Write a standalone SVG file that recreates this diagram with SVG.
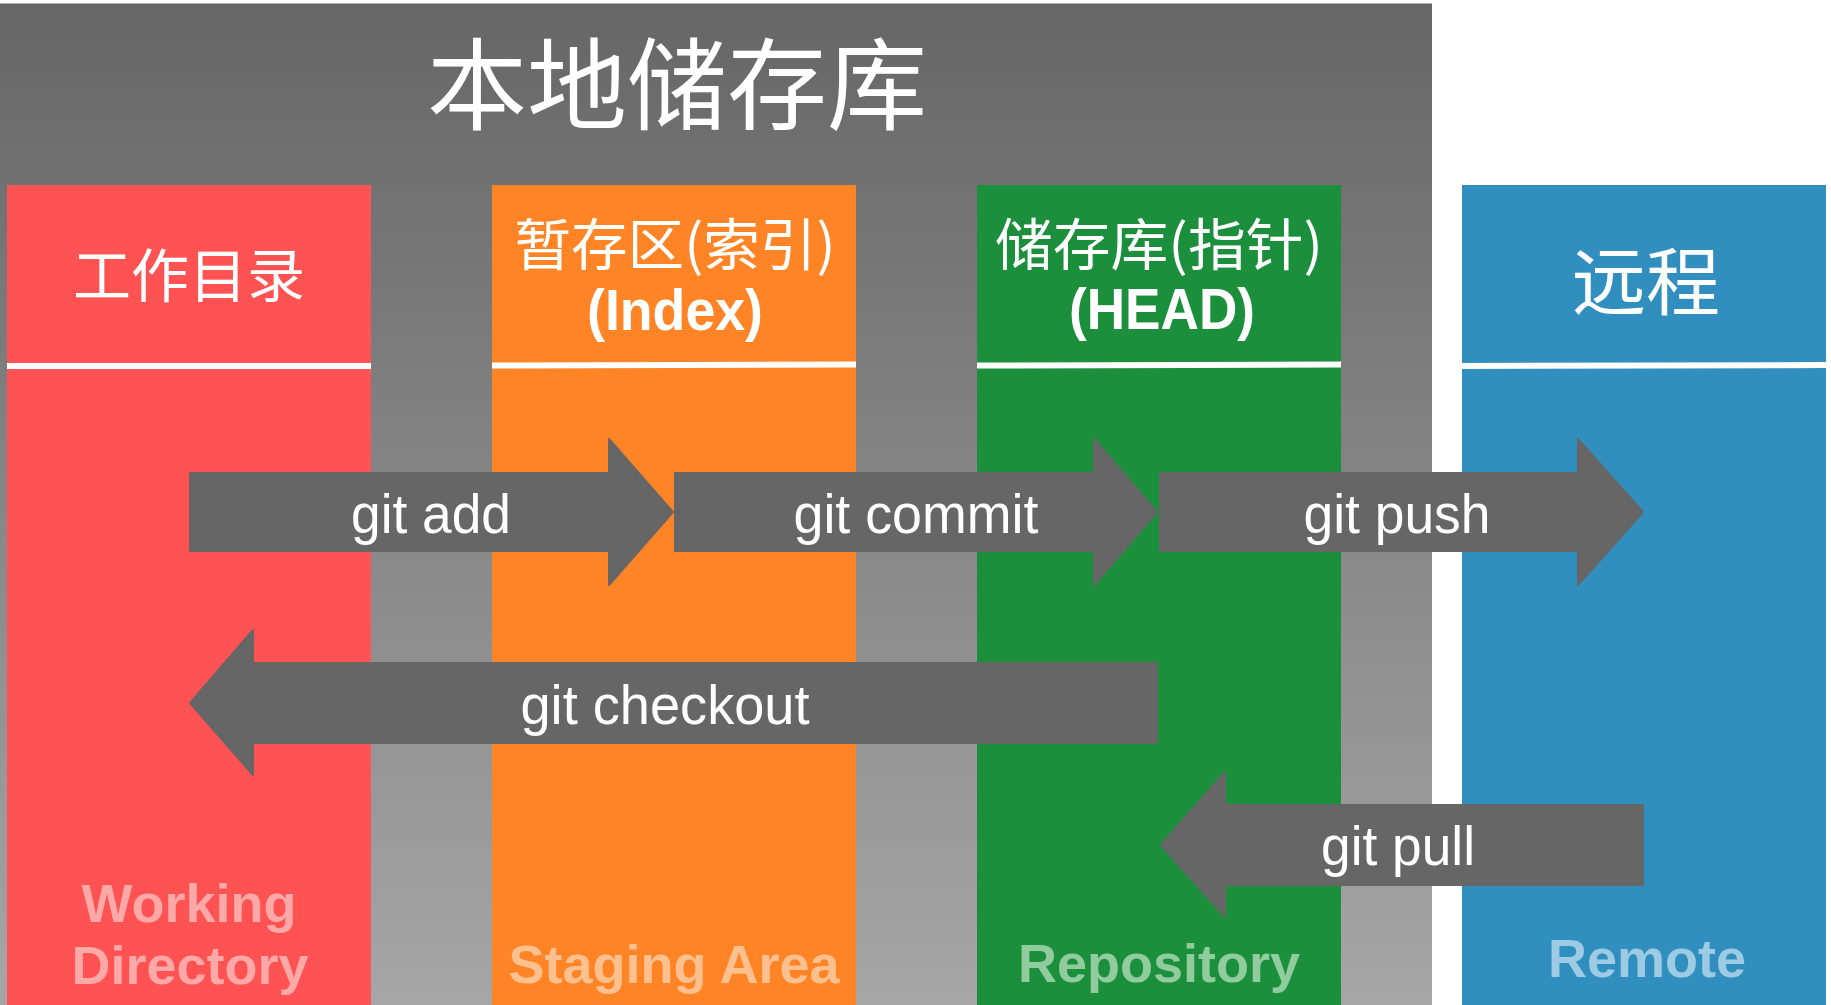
<svg xmlns="http://www.w3.org/2000/svg" width="1831" height="1005" viewBox="0 0 1831 1005">
<defs>
<linearGradient id="bgGrad" x1="0" y1="0" x2="0" y2="1">
<stop offset="0" stop-color="#666666"/>
<stop offset="1" stop-color="#a6a6a6"/>
</linearGradient>
</defs>
<style>
.cjk{font-family:"Noto Sans CJK SC","Noto Sans",sans-serif;fill:#ffffff;text-anchor:middle}
.eng{font-family:"Liberation Sans",Arial,sans-serif;font-weight:bold;fill:#ffffff;text-anchor:middle}
.foot{font-family:"Liberation Sans",Arial,sans-serif;font-weight:bold;font-size:54px;text-anchor:middle}
.cmd{font-family:"Liberation Sans",Arial,sans-serif;font-size:56px;fill:#ffffff;text-anchor:middle}
.sep{stroke:#ffffff;stroke-width:6}
.arrow{fill:#666666;stroke:#666666;stroke-width:2;stroke-linejoin:round}
</style>
<rect x="0" y="0" width="1831" height="1005" fill="#ffffff"/>
<g id="local-repo">
<rect x="0" y="3" width="1432" height="1002" fill="url(#bgGrad)"/>
<line x1="0" y1="3.5" x2="1432" y2="3.5" stroke="#b0b0b0" stroke-width="1"/>
<text class="cjk" x="677" y="122" font-size="100">本地储存库</text>
</g>
<g id="working-directory">
<rect x="7" y="185" width="364" height="820" fill="#ff5252"/>
<text class="cjk" x="189" y="297" font-size="58">工作目录</text>
<line class="sep" x1="7" y1="366" x2="371" y2="366"/>
<text class="foot" fill="#ffa8a8" x="189" y="922">Working</text>
<text class="foot" fill="#ffa8a8" x="190" y="984">Directory</text>
</g>
<g id="staging-area">
<rect x="492" y="185" width="364" height="820" fill="#ff8426"/>
<text class="cjk" x="675" y="265" font-size="56" textLength="321" lengthAdjust="spacingAndGlyphs">暂存区(索引)</text>
<text class="eng" x="675" y="330" font-size="57" textLength="176" lengthAdjust="spacingAndGlyphs">(Index)</text>
<line class="sep" x1="492" y1="365.5" x2="856" y2="364.5"/>
<text class="foot" fill="#ffc08f" x="674" y="983">Staging Area</text>
</g>
<g id="repository">
<rect x="977" y="185" width="364" height="820" fill="#1c8f3c"/>
<text class="cjk" x="1159" y="265" font-size="56" textLength="328" lengthAdjust="spacingAndGlyphs">储存库(指针)</text>
<text class="eng" x="1162" y="329" font-size="57" textLength="186" lengthAdjust="spacingAndGlyphs">(HEAD)</text>
<line class="sep" x1="977" y1="365.5" x2="1341" y2="364.5"/>
<text class="foot" fill="#90cc9e" x="1159" y="982">Repository</text>
</g>
<g id="remote">
<rect x="1462" y="185" width="364" height="820" fill="#318fbf"/>
<text class="cjk" x="1646" y="309" font-size="74">远程</text>
<line class="sep" x1="1462" y1="366" x2="1826" y2="365"/>
<text class="foot" fill="#9ccbe3" x="1647" y="977">Remote</text>
</g>
<g id="connectors">
<g id="git-add">
<path class="arrow" d="M190,473 H609 V439 L673,512 L609,585 V551 H190 Z"/>
<text class="cmd" x="431" y="533" textLength="160" lengthAdjust="spacingAndGlyphs">git add</text>
</g>
<g id="git-commit">
<path class="arrow" d="M675,473 H1094 V439 L1157,512 L1094,585 V551 H675 Z"/>
<text class="cmd" x="916" y="533" textLength="245" lengthAdjust="spacingAndGlyphs">git commit</text>
</g>
<g id="git-push">
<path class="arrow" d="M1160,473 H1578 V439 L1643,512 L1578,585 V551 H1160 Z"/>
<text class="cmd" x="1397" y="533" textLength="187" lengthAdjust="spacingAndGlyphs">git push</text>
</g>
<g id="git-checkout">
<path class="arrow" d="M190,703 L253,630 V663 H1157 V743 H253 V775 Z"/>
<text class="cmd" x="665" y="724" textLength="289" lengthAdjust="spacingAndGlyphs">git checkout</text>
</g>
<g id="git-pull">
<path class="arrow" d="M1161,845 L1225,772 V805 H1643 V885 H1225 V917 Z"/>
<text class="cmd" x="1398" y="865" textLength="154" lengthAdjust="spacingAndGlyphs">git pull</text>
</g>
</g>
</svg>
